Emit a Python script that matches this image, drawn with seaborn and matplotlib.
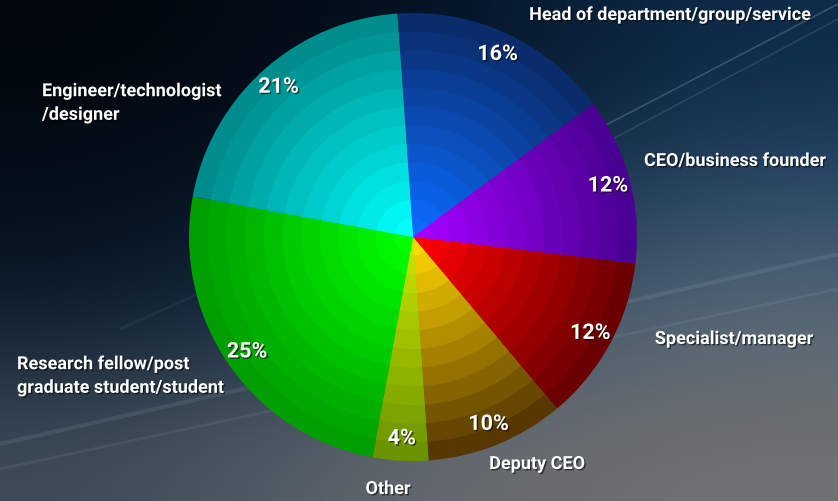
import numpy as np
import matplotlib
matplotlib.use("Agg")
import matplotlib.pyplot as plt
import matplotlib.patheffects as pe
from matplotlib.colors import to_rgb
import seaborn as sns

sns.set_theme(style="white")
plt.rcParams['font.family'] = ['Roboto', 'DejaVu Sans']

# ---- data ----
categories = ["Head of department/group/service", "CEO/business founder",
              "Specialist/manager", "Deputy CEO", "Other",
              "Research fellow/post\ngraduate student/student",
              "Engineer/technologist\n/designer"]
shares = [16, 12, 12, 10, 4, 25, 21]
center_colors = ["#0a6cff", "#a400ff", "#ff0000", "#ffd800", "#c8e600", "#00ff00", "#00ffff"]
outer_colors = ["#0a2c6c", "#4a0092", "#6a0000", "#583800", "#6c9400", "#009e00", "#008c8c"]

W, H = 838, 502
fig = plt.figure(figsize=(W / 100, H / 100), dpi=100)
ax = fig.add_axes([0, 0, 1, 1])

# ---- background ----
bg = [["#02070d", "#030b16", "#061a30", "#0d2c4a"],
      ["#040d18", "#07182a", "#15304a", "#2a4a68"],
      ["#0a1c2c", "#183048", "#40556a", "#5a6a78"],
      ["#3e4c5a", "#5a626a", "#6c6f72", "#707070"]]
bg_arr = np.array([[to_rgb(c) for c in row] for row in bg])
ax.imshow(bg_arr, extent=(0, W, 0, H), origin="upper", interpolation="bicubic",
          zorder=0, aspect="auto")
# faint streaks (image coordinates, y downward)
for (x0, y0, x1, y1, a, lw) in [(560, 150, 838, 5, 0.22, 1.2), (575, 160, 838, 20, 0.15, 1.0),
                                (0, 445, 838, 255, 0.10, 3.0), (0, 470, 838, 290, 0.08, 2.0),
                                (120, 330, 520, 150, 0.06, 2.0)]:
    ax.plot([x0, x1], [H - y0, H - y1], color="#c8d8e8", lw=lw, alpha=a, zorder=1,
            solid_capstyle="butt")

# ---- pie ----
cx, cy, R = 413, H - 238, 224
start = 94
N = 12
for k in range(N):
    t = k / (N - 1)
    r = R * (1 - k / N)
    cols = [tuple(np.array(to_rgb(o)) * (1 - t) + np.array(to_rgb(c)) * t)
            for o, c in zip(outer_colors, center_colors)]
    wedges, _ = ax.pie(shares, radius=r, colors=cols, startangle=start,
                       counterclock=False, center=(cx, cy), frame=True,
                       wedgeprops=dict(linewidth=0, antialiased=True))
    for w in wedges:
        w.set_zorder(2 + k)

shadow = [pe.withSimplePatchShadow(offset=(1, -1), shadow_rgbFace="black", alpha=0.55)]

# percentage labels
total = sum(shares)
cum = 0
for s in shares:
    mid = start - 360 * (cum + s / 2) / total
    cum += s
    rr = R * 0.90
    x = cx + rr * np.cos(np.radians(mid))
    y = cy + rr * np.sin(np.radians(mid))
    ax.text(x, y, f"{s}%", ha="center", va="center", color="white",
            fontsize=15.5, fontweight="bold", zorder=30, path_effects=shadow)

# category labels
label_pos = [(670, 16, "center"), (735, 162, "center"), (734, 340, "center"),
             (537, 465, "center"), (388, 490, "center"), (17, 377, "left"),
             (42, 104, "left")]
for name, (x, y, ha) in zip(categories, label_pos):
    ax.text(x, H - y, name, ha=ha, va="center", color="white", fontsize=13,
            fontweight="bold", linespacing=1.4, zorder=30, path_effects=shadow)

ax.set_xlim(0, W)
ax.set_ylim(0, H)
ax.set_aspect("equal")
ax.axis("off")
fig.savefig("out.png", dpi=100)
